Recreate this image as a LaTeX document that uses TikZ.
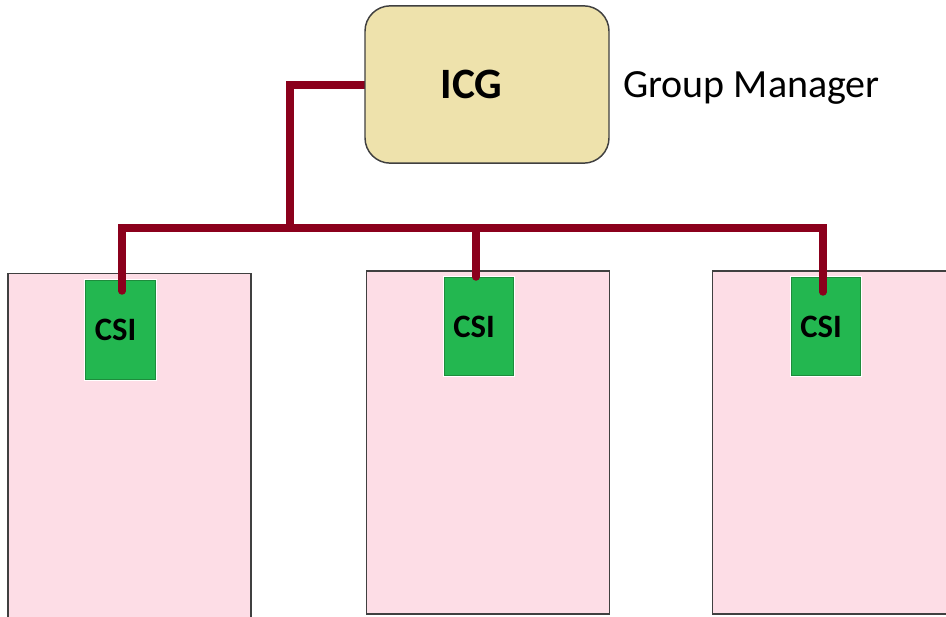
\documentclass[tikz,border=0pt]{standalone}
\usepackage{fontspec}
\setmainfont{Carlito}
\definecolor{icgfill}{RGB}{238,226,172}
\definecolor{boxedge}{RGB}{64,64,64}
\definecolor{hostfill}{RGB}{253,221,230}
\definecolor{linkred}{RGB}{139,0,28}
\definecolor{csifill}{RGB}{35,183,80}
\definecolor{csiedge}{RGB}{30,140,60}
\tikzset{
  host/.style={draw=boxedge, fill=hostfill, line width=1.1pt, minimum width=182pt,
    minimum height=257pt, inner sep=0pt, outer sep=0pt},
  csibox/.style={draw=csiedge, fill=csifill, line width=0.6pt,
    preaction={draw=white, line width=2.2pt},
    minimum width=52pt, minimum height=74pt, inner sep=0pt, outer sep=0pt,
    font=\fontsize{24.5}{28}\selectfont\bfseries},
  icgbox/.style={draw=boxedge, fill=icgfill, line width=1.1pt, rounded corners=19pt,
    minimum width=183pt, minimum height=118pt, inner sep=0pt, outer sep=0pt,
    font=\fontsize{32.5}{38}\selectfont\bfseries},
  link/.style={draw=linkred, line width=5.6pt, line cap=round, line join=miter}
}
\begin{document}
\begin{tikzpicture}[x=0.75pt,y=-0.75pt]
  \clip (0,0) rectangle (946,617);
  \fill[white] (0,0) rectangle (946,617);

  % host machines
  \node[host, minimum height=280pt] (h1) at (129.5,460) {};
  \node[host] (h2) at (488,442.5) {};
  \node[host] (h3) at (834,442.5) {};

  % bus joints and drop ends
  \coordinate (bj) at (290,228);
  \coordinate (bl) at (122,228);
  \coordinate (br) at (823,228);
  \coordinate (e1) at (122,291);
  \coordinate (e2) at (476,277);
  \coordinate (e3) at (823,292);

  % client stubs on each host
  \node[csibox] (c1) at (120.5,330) {CSI\kern7.5pt};
  \node[csibox] (c2) at (479,326.5) {CSI\kern7.5pt};
  \node[csibox] (c3) at (826,326.5) {CSI\kern7.5pt};

  % group manager
  \coordinate (icgw) at (366,85);
  \draw[link] (icgw) -| (bj);
  \draw[link] (e1) -- (bl) -- (br) -- (e3);
  \draw[link] (e2) -- (e2 |- bl);
  \node[icgbox] (icg) at (487,84.5) {ICG\kern23pt};
  \node[anchor=base west, inner sep=0pt, font=\fontsize{30}{36}\selectfont] (gm) at (623,98) {Group Manager};
\end{tikzpicture}
\end{document}
